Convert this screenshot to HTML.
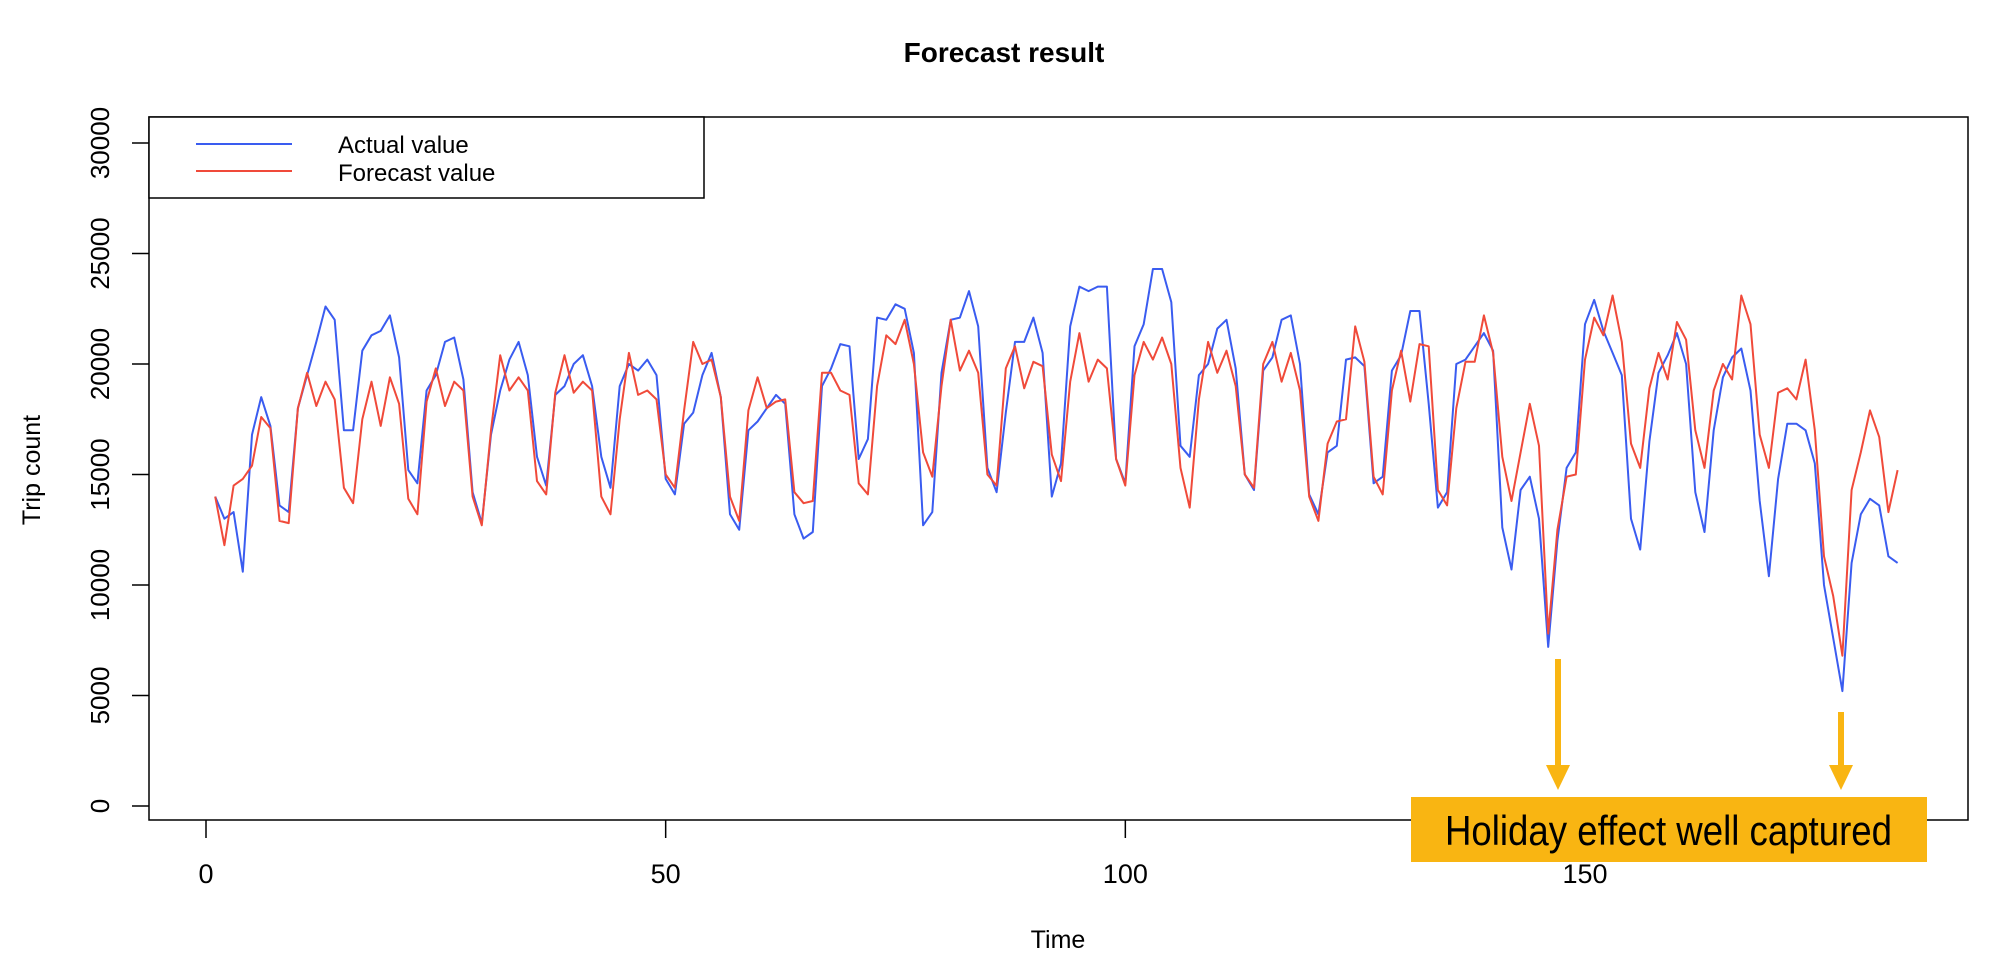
<!DOCTYPE html>
<html><head><meta charset="utf-8"><style>
body{margin:0;background:#fff;}
svg{display:block;font-family:"Liberation Sans",sans-serif;}
</style></head><body>
<svg id="chart" width="2008" height="978" viewBox="0 0 2008 978">
<text x="1004" y="62" text-anchor="middle" font-size="28" font-weight="bold">Forecast result</text>
<g id="xaxis"></g>
<g id="yaxis"></g>
<rect x="149" y="117" width="1819" height="703" fill="none" stroke="#000" stroke-width="1.5"/>
<text x="1058" y="948" text-anchor="middle" font-size="25">Time</text>
<text x="40" y="470" text-anchor="middle" font-size="25" transform="rotate(-90 40 470)">Trip count</text>
<g id="series"></g>
<g>
<rect x="149" y="117" width="555" height="81" fill="#fff" stroke="#000" stroke-width="1.5"/>
<line x1="196" y1="144" x2="292" y2="144" stroke="#3a5cf0" stroke-width="2"/>
<text x="338" y="153" font-size="24">Actual value</text>
<line x1="196" y1="171" x2="292" y2="171" stroke="#f04a3a" stroke-width="2"/>
<text x="338" y="181" font-size="24">Forecast value</text>
</g>
<g>
<rect x="1555" y="659" width="6" height="110" fill="#f9b512"/>
<polygon points="1546,765 1570,765 1558,790" fill="#f9b512"/>
<rect x="1838" y="712" width="6" height="55" fill="#f9b512"/>
<polygon points="1829,765 1853,765 1841,790" fill="#f9b512"/>
<rect x="1411" y="797" width="516" height="65" fill="#f9b512"/>
<text x="1445" y="845" font-size="42" textLength="447" lengthAdjust="spacingAndGlyphs">Holiday effect well captured</text>
</g>
</svg>
<script>
const xTicks=[0,50,100,150];
const yTicks=[0,5000,10000,15000,20000,25000,30000];
const actual=[14000,13000,13300,10600,16800,18500,17200,13600,13300,18000,19500,21000,22600,22000,17000,17000,20600,21300,21500,22200,20300,15200,14600,18800,19500,21000,21200,19300,14200,12800,16800,18800,20200,21000,19500,15800,14500,18600,19000,20000,20400,19000,15800,14400,19000,20000,19700,20200,19500,14800,14100,17300,17800,19500,20500,18500,13200,12500,17000,17400,18000,18600,18200,13200,12100,12400,19000,19800,20900,20800,15700,16600,22100,22000,22700,22500,20500,12700,13300,19600,22000,22100,23300,21700,15300,14200,17800,21000,21000,22100,20500,14000,15500,21700,23500,23300,23500,23500,15700,14600,20800,21800,24300,24300,22800,16300,15800,19500,20000,21600,22000,19800,15000,14300,19700,20300,22000,22200,20000,14100,13200,16000,16300,20200,20300,19900,14600,14900,19700,20400,22400,22400,18200,13500,14200,20000,20200,20800,21400,20600,12600,10700,14300,14900,13000,7200,12000,15300,16000,21800,22900,21500,20500,19500,13000,11600,16500,19600,20400,21400,20000,14200,12400,17000,19400,20300,20700,18800,13800,10400,14800,17300,17300,17000,15500,10000,7600,5200,11000,13200,13900,13600,11300,11000];
const forecast=[14000,11800,14500,14800,15400,17600,17100,12900,12800,18000,19600,18100,19200,18400,14400,13700,17500,19200,17200,19400,18200,13900,13200,18300,19800,18100,19200,18800,14000,12700,17000,20400,18800,19400,18800,14700,14100,18700,20400,18700,19200,18800,14000,13200,17500,20500,18600,18800,18400,15000,14400,17900,21000,20000,20200,18500,14000,12900,17900,19400,18000,18300,18400,14200,13700,13800,19600,19600,18800,18600,14600,14100,19000,21300,20900,22000,20000,16000,14900,19000,22000,19700,20600,19600,15000,14500,19800,20800,18900,20100,19900,15900,14700,19200,21400,19200,20200,19800,15700,14500,19500,21000,20200,21200,20000,15300,13500,18400,21000,19600,20600,19000,15000,14400,20000,21000,19200,20500,18800,14000,12900,16400,17400,17500,21700,20100,14900,14100,18800,20600,18300,20900,20800,14300,13600,18000,20100,20100,22200,20500,15800,13800,16000,18200,16300,7800,12500,14900,15000,20200,22100,21300,23100,21000,16400,15300,18900,20500,19300,21900,21100,17000,15300,18800,20000,19300,23100,21800,16800,15300,18700,18900,18400,20200,17000,11300,9500,6800,14300,16000,17900,16700,13300,15200];
const NS='http://www.w3.org/2000/svg';
function xs(t){return 206+(t*(1585-206)/150);}
function ys(v){return 806-v*(806-143)/30000;}
const xa=document.getElementById('xaxis'),ya=document.getElementById('yaxis'),sg=document.getElementById('series');
xTicks.forEach(t=>{
  const l=document.createElementNS(NS,'line');
  l.setAttribute('x1',xs(t));l.setAttribute('x2',xs(t));l.setAttribute('y1',820);l.setAttribute('y2',838);
  l.setAttribute('stroke','#000');l.setAttribute('stroke-width','1.5');
  
  
  xa.appendChild(l);
  const tx=document.createElementNS(NS,'text');
  tx.setAttribute('x',xs(t));tx.setAttribute('y',883);tx.setAttribute('text-anchor','middle');tx.setAttribute('font-size','27');
  tx.textContent=t;
  
  
  xa.appendChild(tx);
});
yTicks.forEach(v=>{
  const l=document.createElementNS(NS,'line');
  l.setAttribute('x1',132);l.setAttribute('x2',149);l.setAttribute('y1',ys(v));l.setAttribute('y2',ys(v));
  l.setAttribute('stroke','#000');l.setAttribute('stroke-width','1.5');
  
  
  ya.appendChild(l);
  const tx=document.createElementNS(NS,'text');
  tx.setAttribute('x',109);tx.setAttribute('y',ys(v));tx.setAttribute('text-anchor','middle');tx.setAttribute('font-size','26');
  tx.setAttribute('transform','rotate(-90 109 '+ys(v)+')');
  tx.textContent=v;
  
  
  ya.appendChild(tx);
});
function line(arr,color,name){
  const p=document.createElementNS(NS,'polyline');
  p.setAttribute('points',arr.map((v,i)=>xs(i+1).toFixed(1)+','+ys(v).toFixed(1)).join(' '));
  p.setAttribute('fill','none');p.setAttribute('stroke',color);p.setAttribute('stroke-width','2');p.setAttribute('stroke-linejoin','round');
  
  
  sg.appendChild(p);
}
line(actual,'#3a5cf0','actual-line');
line(forecast,'#f04a3a','forecast-line');
</script>
</body></html>
